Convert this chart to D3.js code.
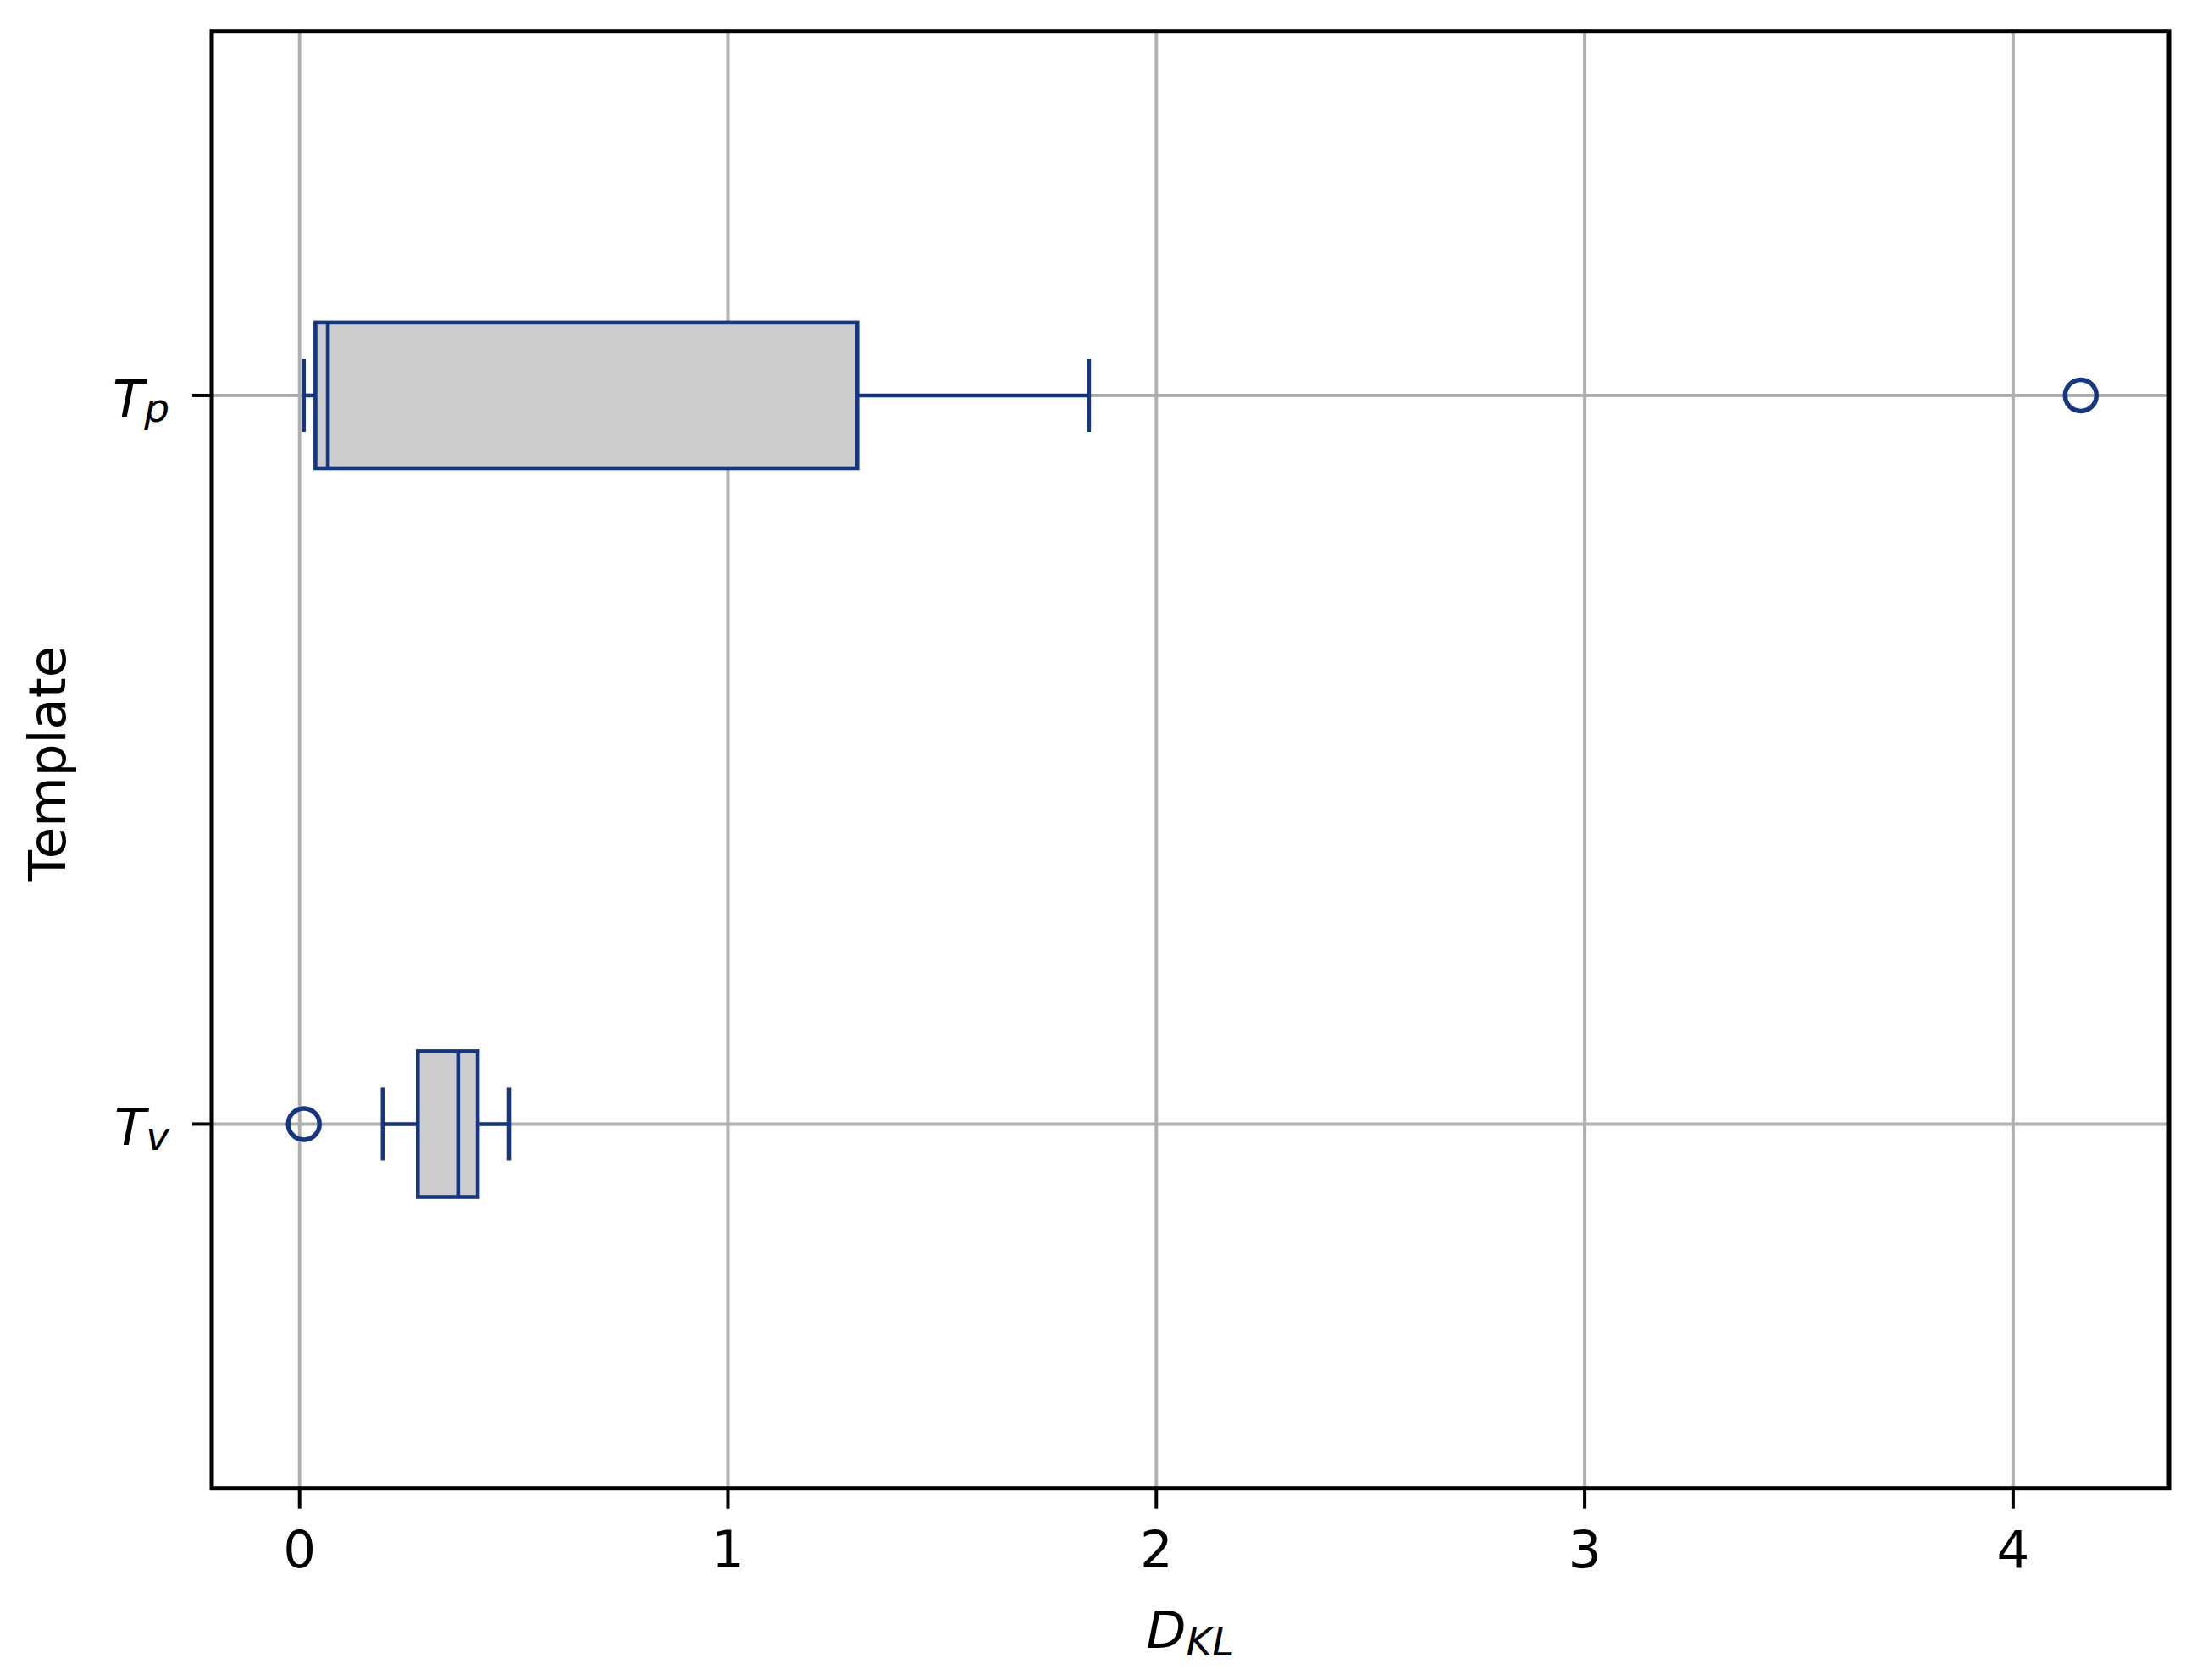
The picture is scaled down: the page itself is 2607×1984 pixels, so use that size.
<!DOCTYPE html>
<html>
<head>
<meta charset="utf-8">
<script src="https://cdn.jsdelivr.net/npm/d3@7"></script>
<style>
  html, body { margin: 0; padding: 0; background: #ffffff; }
  svg { display: block; }
</style>
</head>
<body>
<svg id="chart" width="2607" height="1984"></svg>
<script>
// ---- data ----
const categories   = ["T_v", "T_p"];      // bottom to top
const labelMain    = ["T", "T"];
const labelSub     = ["v", "p"];
const positions    = [1, 2];
const whiskerLow   = [0.194, 0.010];
const q1           = [0.276, 0.037];
const median       = [0.370, 0.066];
const q3           = [0.416, 1.302];
const whiskerHigh  = [0.489, 1.843];
const outliers     = [[0.010], [4.158]];
const xTicks       = [0, 1, 2, 3, 4];
const xDomain      = [-0.205, 4.364];
const yDomain      = [0.5, 2.5];
const boxWidth     = 0.2;
const capWidth     = 0.1;

// ---- layout ----
const svg = d3.select("#chart");
const L = 250, R = 2561, T = 36.7, B = 1757.7;
const x = d3.scaleLinear().domain(xDomain).range([L, R]);
const y = d3.scaleLinear().domain(yDomain).range([B, T]);

const edge = "#16377f", fill = "#cccccc", grid = "#b0b0b0";
const font = "'DejaVu Sans', Verdana, sans-serif";
const fs = 61, subFs = 47;

// grid
const g = svg.append("g");
g.selectAll("line.vx").data(xTicks).enter().append("line")
  .attr("x1", d => x(d)).attr("x2", d => x(d))
  .attr("y1", T).attr("y2", B)
  .attr("stroke", grid).attr("stroke-width", 4);
g.selectAll("line.hy").data(positions).enter().append("line")
  .attr("y1", d => y(d)).attr("y2", d => y(d))
  .attr("x1", L).attr("x2", R)
  .attr("stroke", grid).attr("stroke-width", 4);

// boxplots
const data = categories.map((c, i) => ({
  c, pos: positions[i], lo: whiskerLow[i], q1: q1[i], med: median[i],
  q3: q3[i], hi: whiskerHigh[i], out: outliers[i]
}));
const bg = svg.append("g").attr("stroke", edge).attr("stroke-width", 4.6).attr("fill", "none");
data.forEach(d => {
  const cy = y(d.pos);
  const bh = y(d.pos - boxWidth / 2) - y(d.pos + boxWidth / 2);
  const ch = y(d.pos - capWidth / 2) - y(d.pos + capWidth / 2);
  // whiskers
  bg.append("line").attr("x1", x(d.lo)).attr("x2", x(d.q1)).attr("y1", cy).attr("y2", cy);
  bg.append("line").attr("x1", x(d.q3)).attr("x2", x(d.hi)).attr("y1", cy).attr("y2", cy);
  // caps
  bg.append("line").attr("x1", x(d.lo)).attr("x2", x(d.lo)).attr("y1", cy - ch / 2).attr("y2", cy + ch / 2);
  bg.append("line").attr("x1", x(d.hi)).attr("x2", x(d.hi)).attr("y1", cy - ch / 2).attr("y2", cy + ch / 2);
  // box
  bg.append("rect").attr("x", x(d.q1)).attr("y", cy - bh / 2)
    .attr("width", x(d.q3) - x(d.q1)).attr("height", bh).attr("fill", fill);
  // median
  bg.append("line").attr("x1", x(d.med)).attr("x2", x(d.med)).attr("y1", cy - bh / 2).attr("y2", cy + bh / 2);
  // outliers
  d.out.forEach(v => {
    bg.append("circle").attr("cx", x(v)).attr("cy", cy).attr("r", 18.5)
      .attr("fill", "none").attr("stroke-width", 5.5);
  });
});

// frame
svg.append("rect").attr("x", L).attr("y", T).attr("width", R - L).attr("height", B - T)
  .attr("fill", "none").attr("stroke", "#000").attr("stroke-width", 5);

// x axis ticks & labels
const xa = svg.append("g");
xa.selectAll("line").data(xTicks).enter().append("line")
  .attr("x1", d => x(d)).attr("x2", d => x(d))
  .attr("y1", B).attr("y2", B + 24)
  .attr("stroke", "#000").attr("stroke-width", 4);
xa.selectAll("text").data(xTicks).enter().append("text")
  .attr("x", d => x(d)).attr("y", 1851)
  .attr("text-anchor", "middle")
  .attr("font-family", font).attr("font-size", fs).attr("fill", "#000")
  .text(d => d3.format("d")(d));

// y axis ticks & labels
const ya = svg.append("g");
ya.selectAll("line").data(positions).enter().append("line")
  .attr("y1", d => y(d)).attr("y2", d => y(d))
  .attr("x1", L - 23).attr("x2", L)
  .attr("stroke", "#000").attr("stroke-width", 4);
const yl = ya.selectAll("text").data(positions).enter().append("text")
  .attr("x", 200).attr("y", d => y(d) + 25)
  .attr("text-anchor", "end")
  .attr("font-family", font).attr("font-size", fs).attr("font-style", "italic").attr("fill", "#000");
yl.append("tspan").text((d, i) => labelMain[i]);
yl.append("tspan").attr("font-size", subFs).attr("dy", 6).text((d, i) => labelSub[i]);

// x label D_KL
const xl = svg.append("text")
  .attr("x", (L + R) / 2).attr("y", 1946)
  .attr("text-anchor", "middle")
  .attr("font-family", font).attr("font-size", fs).attr("font-style", "italic").attr("fill", "#000");
xl.append("tspan").text("D");
xl.append("tspan").attr("font-size", subFs).attr("dy", 9).text("KL");

// y label
svg.append("text")
  .attr("transform", `translate(77, 902) rotate(-90)`)
  .attr("text-anchor", "middle")
  .attr("font-family", font).attr("font-size", fs).attr("fill", "#000")
  .text("Template");
</script>
</body>
</html>
